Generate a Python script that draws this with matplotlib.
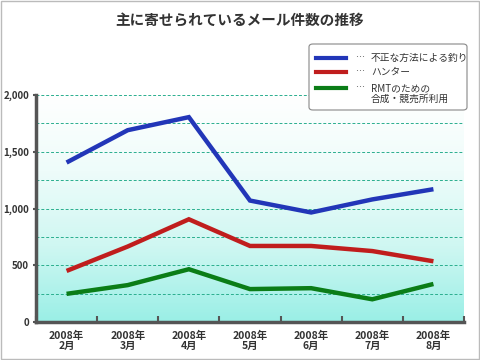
import numpy as np
import matplotlib
matplotlib.use('Agg')
import matplotlib.pyplot as plt
from matplotlib.colors import LinearSegmentedColormap
from matplotlib.patches import FancyBboxPatch
from matplotlib.lines import Line2D

plt.rcParams['font.family'] = ['Noto Sans CJK JP', 'DejaVu Sans']

# data
months = ['2008年\n2月', '2008年\n3月', '2008年\n4月', '2008年\n5月',
          '2008年\n6月', '2008年\n7月', '2008年\n8月']
fishing = [1405, 1690, 1805, 1070, 965, 1080, 1170]
hunter = [450, 665, 905, 670, 670, 625, 535]
rmt = [248, 325, 465, 290, 298, 200, 335]
labels = ['不正な方法による釣り', 'ハンター', 'RMTのための\n合成・競売所利用']
colors = ['#2236b8', '#c01d1d', '#0b7d17']

W, H = 480, 360
fig = plt.figure(figsize=(4.8, 3.6), dpi=100)
fig.patch.set_facecolor('white')

def fx(px):
    return px / W

def fy(py):
    return 1 - py / H

# outer frame
fig.patches.append(FancyBboxPatch((fx(1), fy(359)), fx(478), 358 / H, boxstyle='square,pad=0',
                                  transform=fig.transFigure, fill=False,
                                  edgecolor='#bbbbbb', linewidth=1))

ax = fig.add_axes([fx(36), fy(322), fx(428), 227 / H])

# gradient background
cmap = LinearSegmentedColormap.from_list('bg', ['#ffffff', '#eefcfa', '#cff7f2', '#9aefe6'])
grad = np.linspace(0, 1, 256).reshape(-1, 1)
ax.imshow(grad, extent=[0, 1, 0, 1], transform=ax.transAxes, cmap=cmap,
          aspect='auto', zorder=0)

x = np.arange(len(months)) + 0.5
for vals, c in zip([fishing, hunter, rmt], colors):
    ax.plot(x, vals, color=c, linewidth=3.2, zorder=3,
            solid_joinstyle='miter', solid_capstyle='butt')

ax.set_xlim(0, len(months))
ax.set_ylim(0, 2000)

for yv in np.arange(250, 2001, 250):
    ax.axhline(yv, color='#2aae8e', linestyle=(0, (3, 2)), linewidth=0.7, zorder=1)

ax.set_yticks([0, 500, 1000, 1500, 2000])
ax.set_yticklabels(['0', '500', '1,000', '1,500', '2,000'])
ax.set_xticks(np.arange(0, len(months) + 1))
ax.set_xticklabels([])
ax.set_xticks(x, minor=True)
ax.set_xticklabels(months, minor=True)
ax.tick_params(axis='x', which='major', direction='in', length=4, width=1.5, color='#555555')
ax.tick_params(axis='x', which='minor', length=0, pad=6, labelsize=7.5, labelcolor='#333333')
ax.tick_params(axis='y', direction='out', length=2, width=1.5, color='#555555',
               labelsize=7, labelcolor='#333333', pad=3)
for lbl in ax.get_xticklabels(minor=True):
    lbl.set_fontweight('bold')
    lbl.set_linespacing(1.05)
for lbl in ax.get_yticklabels():
    lbl.set_fontweight('bold')

for s in ['top', 'right']:
    ax.spines[s].set_visible(False)
for s in ['left', 'bottom']:
    ax.spines[s].set_color('#555555')
    ax.spines[s].set_linewidth(2.5)

fig.text(0.5, fy(20), '主に寄せられているメール件数の推移', ha='center', va='center',
         fontsize=10.5, fontweight='bold', color='#333333')

# legend box drawn by hand
fig.patches.append(FancyBboxPatch((fx(309), fy(110)), fx(158), 66 / H,
                                  boxstyle='round,pad=0,rounding_size=0.008',
                                  transform=fig.transFigure, facecolor='white',
                                  edgecolor='#888888', linewidth=0.8, zorder=5))
rows_y = [58, 72, 88]
for c, lab, ry in zip(colors, labels, rows_y):
    fig.lines.append(Line2D([fx(316), fx(346)], [fy(ry), fy(ry)], color=c, linewidth=3,
                            transform=fig.transFigure, zorder=6))
    fig.text(fx(355), fy(ry), '…', ha='left', va='center', fontsize=6.5,
             color='#333333', zorder=6)
    fig.text(fx(371), fy(ry - 5), lab, ha='left', va='top', fontsize=7,
             color='#333333', zorder=6, linespacing=1.1)

fig.savefig('out.png', dpi=100)
